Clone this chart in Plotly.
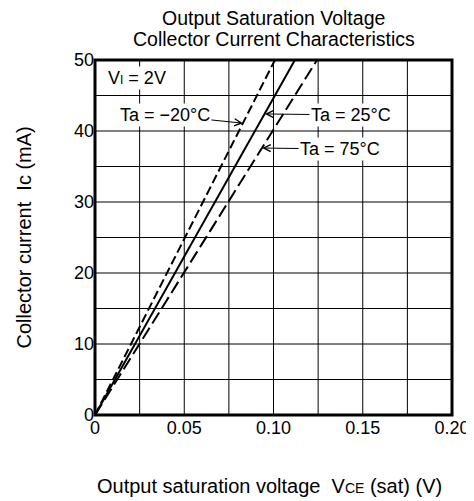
import plotly.graph_objects as go

# Data
ic_ma = [0, 10, 20, 30, 40, 50]
vce_m20 = [0, 0.0202, 0.0403, 0.0605, 0.0806, 0.1008]   # Ta = -20°C
vce_25 = [0, 0.0224, 0.0448, 0.0672, 0.0896, 0.1120]    # Ta = 25°C
vce_75 = [0, 0.0249, 0.0498, 0.0746, 0.0995, 0.1244]    # Ta = 75°C

x_ticks = [0, 0.05, 0.10, 0.15, 0.20]
x_tick_labels = ["0", "0.05", "0.10", "0.15", "0.20"]
y_ticks = [0, 10, 20, 30, 40, 50]

FONT = "Arial, Liberation Sans, sans-serif"
FS = 18
OFF = 8  # page body margin offset
W, H = 474 - OFF, 501 - OFF
L, R, T, B = 95 - OFF, 22, 60 - OFF, 86

fig = go.Figure()
fig.add_trace(go.Scatter(x=vce_m20, y=ic_ma, mode="lines",
                         line=dict(color="black", width=2, dash="9px,4px"),
                         showlegend=False))
fig.add_trace(go.Scatter(x=vce_25, y=ic_ma, mode="lines",
                         line=dict(color="black", width=2),
                         showlegend=False))
fig.add_trace(go.Scatter(x=vce_75, y=ic_ma, mode="lines",
                         line=dict(color="black", width=2, dash="13px,5px"),
                         showlegend=False))

for gx in [0.025, 0.05, 0.075, 0.1, 0.125, 0.15, 0.175]:
    fig.add_shape(type="line", xref="x", yref="y", x0=gx, x1=gx, y0=0, y1=50,
                  line=dict(color="black", width=1), layer="below")
for gy in [5, 10, 15, 20, 25, 30, 35, 40, 45]:
    fig.add_shape(type="line", xref="x", yref="y", x0=0, x1=0.2, y0=gy, y1=gy,
                  line=dict(color="black", width=1), layer="below")
fig.add_shape(type="rect", xref="paper", yref="paper", x0=0, x1=1, y0=0, y1=1,
              line=dict(color="black", width=3), layer="above")

ann_font = dict(family=FONT, size=FS, color="black")
fig.add_annotation(x=0.006, y=47.5, xref="x", yref="y", xanchor="left",
                   text="V<span style='font-size:12px'>I</span> = 2V",
                   showarrow=False, font=ann_font, bgcolor="white", borderpad=1)
fig.add_annotation(x=0.0829, y=41.1, xref="x", yref="y",
                   text="Ta = \u221220°C", showarrow=True, ax=-78, ay=-8,
                   arrowhead=5, arrowsize=1.4, arrowwidth=1, arrowcolor="black",
                   font=ann_font, bgcolor="white", borderpad=1)
fig.add_annotation(x=0.0952, y=42.4, xref="x", yref="y",
                   text="Ta = 25°C", showarrow=True, ax=86, ay=1,
                   arrowhead=5, arrowsize=1.4, arrowwidth=1, arrowcolor="black",
                   font=ann_font, bgcolor="white", borderpad=1)
fig.add_annotation(x=0.0936, y=37.6, xref="x", yref="y",
                   text="Ta = 75°C", showarrow=True, ax=78, ay=1,
                   arrowhead=5, arrowsize=1.4, arrowwidth=1, arrowcolor="black",
                   font=ann_font, bgcolor="white", borderpad=1)

# titles as paper annotations placed by page pixels
def px_x(px):
    return (px - OFF - L) / (W - L - R)

def px_y(py):
    return (H - B - (py - OFF)) / (H - T - B)

cx = px_x((95 + 452) / 2)
for txt, py in [("Output Saturation Voltage", 18), ("Collector Current Characteristics", 39)]:
    fig.add_annotation(x=cx, y=px_y(py), xref="paper", yref="paper", showarrow=False,
                       xanchor="center", yanchor="middle",
                       text=txt, font=dict(family=FONT, size=19.5))
fig.add_annotation(x=px_x(269), y=px_y(486), xref="paper", yref="paper", showarrow=False,
                   xanchor="center", yanchor="middle",
                   text="Output saturation voltage\u00a0\u00a0V<span style='font-size:14px'>CE</span> (sat) (V)",
                   font=dict(family=FONT, size=20))
fig.add_annotation(x=px_x(23), y=0.5, xref="paper", yref="paper", showarrow=False,
                   xanchor="center", yanchor="middle", textangle=-90,
                   text="Collector current\u00a0\u00a0Ic (mA)",
                   font=dict(family=FONT, size=20))

fig.update_layout(
    width=W, height=H,
    margin=dict(l=L, r=R, t=T, b=B, autoexpand=False),
    paper_bgcolor="white", plot_bgcolor="white",
    font=dict(family=FONT, size=FS, color="black"),
    xaxis=dict(range=[0, 0.2], tickvals=x_ticks, ticktext=x_tick_labels,
               showgrid=False, zeroline=False, showline=False, ticks="",
               tickfont=dict(size=FS), automargin=False),
    yaxis=dict(range=[0, 50], tickvals=y_ticks,
               showgrid=False, zeroline=False, showline=False, ticks="",
               tickfont=dict(size=FS), automargin=False),
)

fig.write_html("out.html")
